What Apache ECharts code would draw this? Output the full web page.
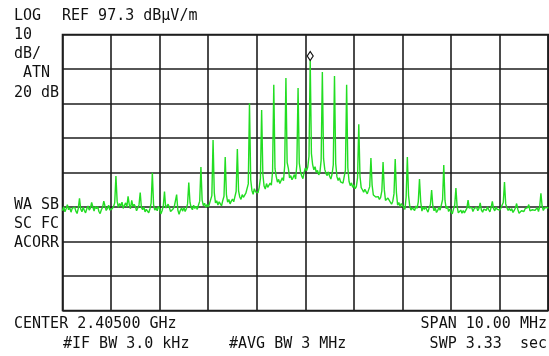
<!DOCTYPE html>
<html>
<head>
<meta charset="utf-8">
<title>Spectrum</title>
<script src="https://cdn.jsdelivr.net/npm/echarts@6/dist/echarts.min.js"></script>
<style>
    html, body { margin: 0; padding: 0; background: #fff; }
    #main { width: 549px; height: 356px; }
</style>
</head>
<body>
<div id="main"></div>
<script>
//analyzer settings
var refLevel = 97.3;          //REF dBµV/m
var dbPerDiv = 10;
var divCount = 8;
var spanMHz = 10;
var stepMHz = 0.025;          //trace bin width, 401 bins

//trace, dBµV/m, one value per bin from -5 MHz to +5 MHz (10 bins per row)
var traceDbuv = [
    46.2, 47.4, 45.9, 46.8, 48.0, 46.5, 47.1, 45.8, 46.9, 46.4,
    47.3, 46.1, 45.4, 46.9, 49.8, 46.7, 45.9, 47.2, 46.3, 45.6,
    46.8, 47.6, 46.4, 47.0, 48.6, 47.3, 46.1, 47.5, 46.8, 47.4,
    46.0, 45.4, 46.5, 47.2, 49.0, 47.6, 46.3, 46.9, 47.8, 46.4,
    45.9, 46.8, 47.4, 48.5, 56.3, 49.0, 47.2, 48.3, 47.6, 48.7,
    46.9, 47.8, 48.5, 47.3, 50.4, 48.0, 46.8, 49.2, 47.5, 48.1,
    47.4, 46.2, 47.0, 47.9, 51.5, 47.1, 46.5, 47.3, 45.9, 46.6,
    46.1, 45.6, 46.8, 48.4, 57.2, 48.0, 46.4, 47.0, 46.2, 47.5,
    46.9, 45.3, 46.2, 47.6, 51.8, 47.0, 46.5, 48.1, 47.2, 46.0,
    45.5, 46.7, 47.3, 47.7, 50.9, 46.4, 45.2, 46.3, 47.0, 46.1,
    47.2, 46.0, 46.8, 48.2, 54.4, 48.6, 47.1, 46.5, 47.8, 46.9,
    47.5, 46.6, 47.9, 49.0, 58.9, 49.3, 47.7, 48.4, 47.2, 48.0,
    47.3, 48.2, 47.8, 50.6, 66.7, 51.4, 48.5, 49.1, 47.9, 48.8,
    48.3, 47.6, 49.2, 50.4, 61.8, 50.9, 48.7, 49.5, 48.2, 49.0,
    49.6, 48.8, 50.3, 51.8, 64.1, 52.0, 50.2, 49.5, 50.9, 50.1,
    50.4, 51.3, 50.8, 54.0, 77.4, 55.2, 52.1, 51.0, 52.6, 51.7,
    52.0, 51.4, 53.0, 55.6, 75.4, 56.8, 53.4, 52.5, 54.1, 53.0,
    53.3, 54.2, 53.6, 57.5, 82.7, 58.4, 56.2, 54.5, 55.3, 54.1,
    54.6, 55.8, 54.9, 59.3, 84.7, 60.2, 58.5, 55.7, 56.4, 55.2,
    55.9, 56.7, 55.4, 59.6, 81.8, 60.0, 57.6, 56.3, 55.5, 57.4,
    58.6, 57.8, 58.9, 62.0, 89.9, 62.8, 59.6, 58.1, 59.0, 57.3,
    57.9, 56.6, 57.4, 60.8, 86.4, 61.3, 58.2, 57.0, 56.4, 57.5,
    56.2, 55.4, 56.8, 59.5, 85.3, 59.9, 56.1, 55.0, 55.8, 54.6,
    55.1, 54.2, 53.8, 58.0, 82.7, 58.6, 54.7, 53.5, 54.3, 53.0,
    53.7, 52.6, 53.2, 55.8, 71.3, 56.2, 52.9, 52.3, 51.6, 52.4,
    51.9, 51.1, 50.6, 53.2, 61.5, 53.6, 50.8, 51.3, 50.2, 50.7,
    50.3, 49.5, 50.1, 52.0, 60.3, 52.4, 49.2, 48.7, 49.9, 49.3,
    48.8, 48.1, 49.0, 51.1, 61.2, 51.5, 47.8, 48.6, 47.4, 48.3,
    47.9, 47.2, 46.6, 50.2, 61.8, 50.6, 47.5, 46.4, 47.1, 46.8,
    46.3, 47.6, 46.9, 48.8, 55.4, 48.9, 46.1, 47.3, 46.6, 47.4,
    46.5, 45.8, 47.1, 48.0, 52.2, 47.6, 46.2, 47.0, 45.7, 46.3,
    47.2, 46.4, 46.9, 49.4, 59.5, 49.2, 46.8, 47.5, 46.0, 46.7,
    45.9, 45.3, 46.7, 47.8, 52.8, 47.4, 45.6, 45.2, 46.4, 45.5,
    46.3, 45.6, 45.1, 46.9, 49.3, 47.0, 46.5, 47.2, 46.0, 46.8,
    46.6, 47.3, 46.2, 46.9, 48.5, 46.4, 45.8, 46.7, 47.1, 46.3,
    47.4, 46.5, 45.9, 47.2, 48.9, 46.8, 46.2, 47.3, 46.6, 47.0,
    46.4, 47.0, 46.5, 48.6, 54.5, 48.2, 47.1, 46.3, 46.9, 46.2,
    46.8, 45.7, 46.3, 47.0, 48.3, 46.6, 45.5, 45.1, 46.2, 45.8,
    46.0, 46.8, 46.4, 47.1, 48.0, 46.2, 45.7, 46.5, 47.0, 46.3,
    46.5, 47.1, 46.0, 47.4, 51.3, 47.6, 46.3, 47.0, 46.6, 47.2,
    46.9
];
var markerIndex = 204;        //marker on the highest line

//screen texts
var leftLabels = ["LOG", "10", "dB/", " ATN", "20 dB", "WA SB", "SC FC", "ACORR"];
var refLabel = "REF 97.3 dBµV/m";
var bottomLabels = ["CENTER 2.40500 GHz", "#IF BW 3.0 kHz", "#AVG BW 3 MHz", "SPAN 10.00 MHz", "SWP 3.33  sec"];

var monoFont = "DejaVu Sans Mono";
var gridColor = "#1e1e1e";
var traceColor = "#22dd22";

var traceData = [];
for (var i = 0; i < traceDbuv.length; i++) {
    traceData.push([-spanMHz / 2 + i * stepMHz, traceDbuv[i] - refLevel]);
}

function txt(str, x, y, align) {
    return {
        type: "text",
        left: align === "right" ? null : x,
        right: align === "right" ? x : null,
        top: y - 7,
        style: {
            text: str,
            fill: "#111",
            font: "15px " + monoFont
        }
    };
}

var graphics = [
    txt(leftLabels[0], 14, 16),
    txt(refLabel, 62, 16),
    txt(leftLabels[1], 14, 35),
    txt(leftLabels[2], 14, 54),
    txt(leftLabels[3], 14, 73),
    txt(leftLabels[4], 14, 93),
    txt(leftLabels[5], 14, 205),
    txt(leftLabels[6], 14, 224),
    txt(leftLabels[7], 14, 243),
    txt(bottomLabels[0], 14, 324),
    txt(bottomLabels[1], 63, 344),
    txt(bottomLabels[2], 229, 344),
    txt(bottomLabels[3], 2, 324, "right"),
    txt(bottomLabels[4], 2, 344, "right")
];

var myChart = echarts.init(document.getElementById("main"));
var option = {
    backgroundColor: "#fff",
    animation: false,
    grid: {
        left: 62.5,
        top: 34.5,
        right: 0.8,
        bottom: 45.5,
        show: true,
        borderColor: gridColor,
        borderWidth: 1.6,
        backgroundColor: "#fff"
    },
    xAxis: {
        type: "value",
        min: -spanMHz / 2,
        max: spanMHz / 2,
        interval: 1,
        axisLine: { show: false },
        axisTick: { show: false },
        axisLabel: { show: false },
        splitLine: { show: true, lineStyle: { color: gridColor, width: 1.6 } }
    },
    yAxis: {
        type: "value",
        min: -dbPerDiv * divCount,
        max: 0,
        interval: dbPerDiv,
        axisLine: { show: false },
        axisTick: { show: false },
        axisLabel: { show: false },
        splitLine: { show: true, lineStyle: { color: gridColor, width: 1.6 } }
    },
    graphic: graphics,
    series: [
        {
            type: "line",
            data: traceData,
            showSymbol: false,
            symbol: "none",
            lineStyle: { color: traceColor, width: 1.4 },
            markPoint: {
                symbol: "diamond",
                symbolSize: [6, 9],
                symbolOffset: [0, -4],
                itemStyle: { color: "#fff", borderColor: "#111", borderWidth: 1.2 },
                label: { show: false },
                data: [{ coord: traceData[markerIndex] }]
            }
        }
    ]
};
myChart.setOption(option);
</script>
</body>
</html>
